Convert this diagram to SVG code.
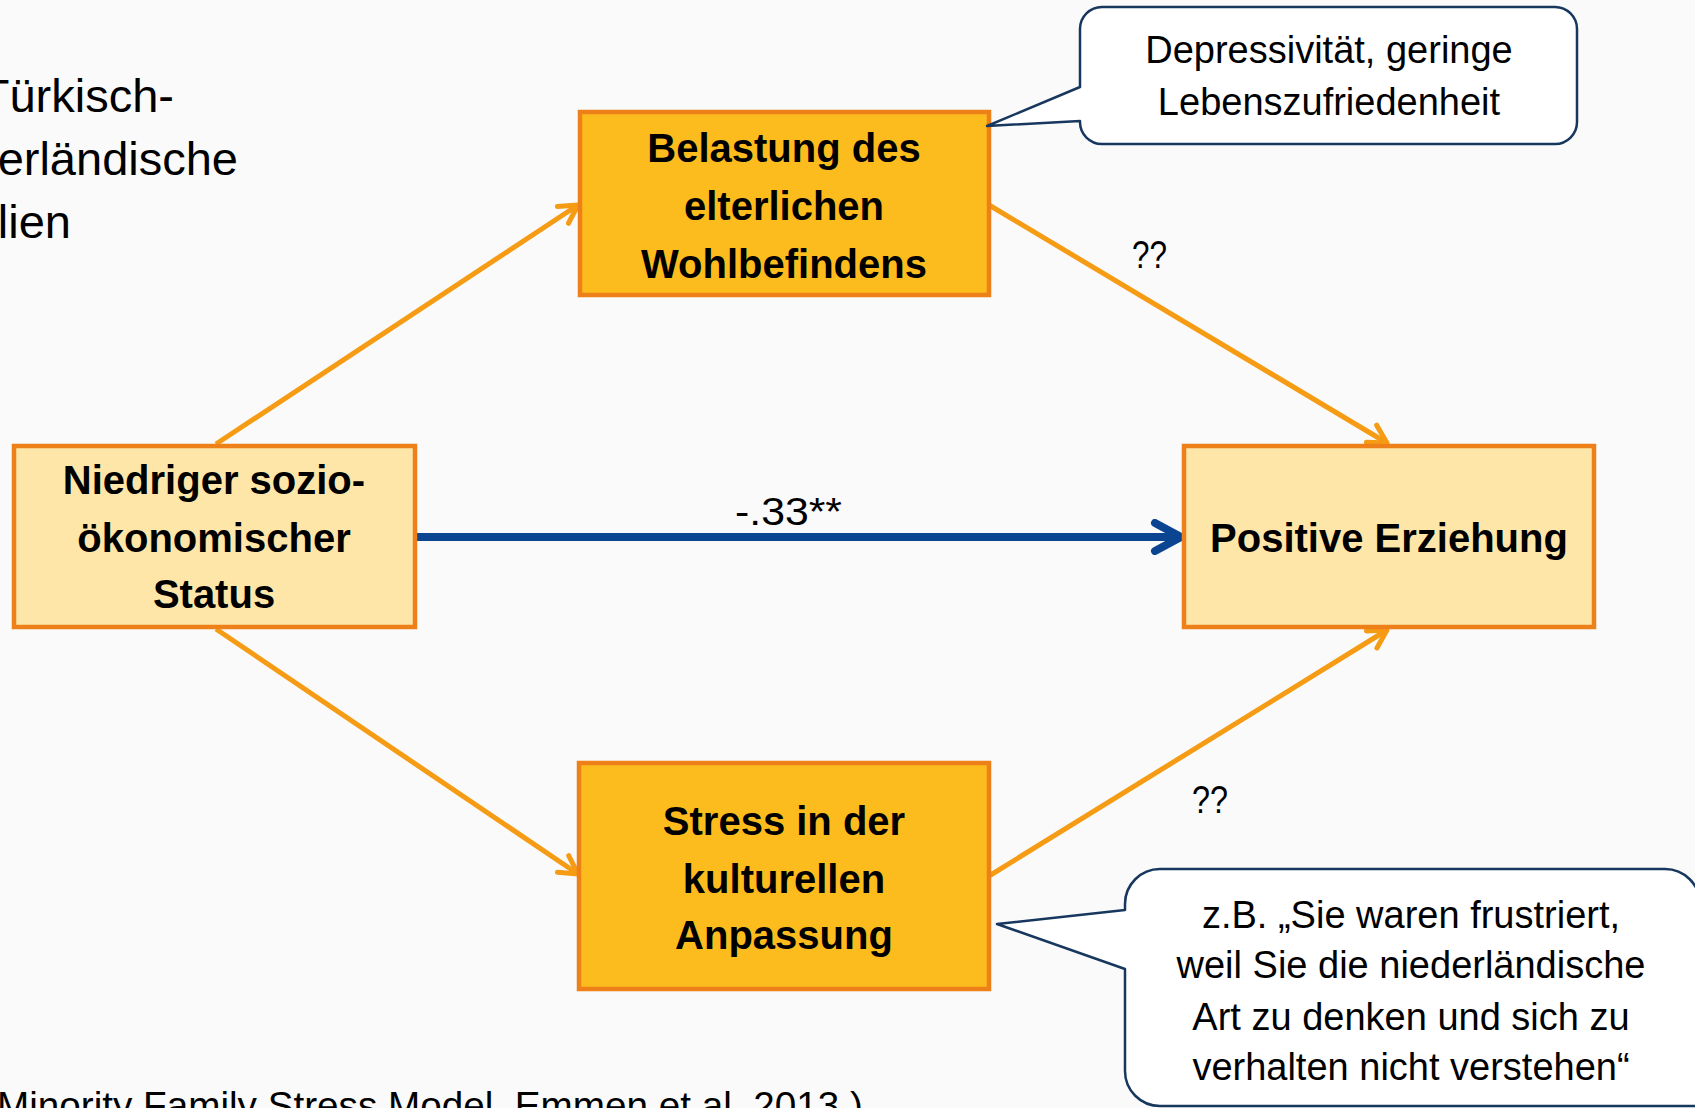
<svg xmlns="http://www.w3.org/2000/svg" width="1695" height="1108" viewBox="0 0 1695 1108">
  <style>
    .bg { fill: #FAFAFA; }
    .box { stroke: #EE8019; stroke-width: 4.5; }
    .light { fill: #FEE6A9; }
    .dark { fill: #FDBC1E; }
    .lbl { font-family: "Liberation Sans", Arial, sans-serif; font-weight: bold; font-size: 40px; fill: #000; text-anchor: middle; }
    .txt { font-family: "Liberation Sans", Arial, sans-serif; font-size: 38px; fill: #000; }
    .mid { text-anchor: middle; }
    .head { font-family: "Liberation Sans", Arial, sans-serif; font-size: 47px; fill: #000; text-anchor: end; }
    .orange { stroke: #F59B14; stroke-width: 5; fill: none; }
    .blue { stroke: #0B4592; stroke-width: 8; fill: none; }
    .call { fill: #FFFFFF; stroke: #17375E; stroke-width: 2.5; stroke-linejoin: round; }
  </style>
  <defs>
    <marker id="arrOrange" markerUnits="userSpaceOnUse" viewBox="0 0 26 28" markerWidth="26" markerHeight="28" refX="22" refY="14" orient="auto">
      <path d="M4,4 L22,14 L4,24" fill="none" stroke="#F59B14" stroke-width="5" stroke-linecap="round" stroke-linejoin="round"/>
    </marker>
    <marker id="arrBlue" markerUnits="userSpaceOnUse" viewBox="0 0 36 36" markerWidth="36" markerHeight="36" refX="31" refY="18" orient="auto">
      <path d="M5,4 L31,18 L5,32" fill="none" stroke="#0B4592" stroke-width="8" stroke-linecap="round" stroke-linejoin="round"/>
    </marker>
  </defs>

  <rect class="bg" x="0" y="0" width="1695" height="1108"/>

  <!-- heading block, left-aligned and running off the left edge -->
  <g id="heading">
    <text class="head" x="174" y="112">Türkisch-</text>
    <text class="head" x="238" y="175">niederländische</text>
    <text class="head" x="71" y="238">Familien</text>
  </g>

  <!-- connectors -->
  <g id="connectors">
    <line class="orange" x1="216" y1="444" x2="578" y2="205" marker-end="url(#arrOrange)"/>
    <line class="orange" x1="216" y1="629" x2="578" y2="874" marker-end="url(#arrOrange)"/>
    <line class="orange" x1="989" y1="205" x2="1387" y2="443" marker-end="url(#arrOrange)"/>
    <line class="orange" x1="989" y1="876" x2="1387" y2="630" marker-end="url(#arrOrange)"/>
    <line class="blue" x1="415" y1="537" x2="1181" y2="537" marker-end="url(#arrBlue)"/>
    <text class="txt" x="735" y="525" textLength="107" lengthAdjust="spacingAndGlyphs">-.33**</text>
    <text class="txt" x="1132" y="268" textLength="35" lengthAdjust="spacingAndGlyphs">??</text>
    <text class="txt" x="1192" y="813" textLength="36" lengthAdjust="spacingAndGlyphs">??</text>
  </g>

  <!-- nodes -->
  <g id="node-ses">
    <rect class="box light" x="14" y="446" width="401" height="181"/>
    <text class="lbl" x="214" y="494">Niedriger sozio-</text>
    <text class="lbl" x="214" y="552">ökonomischer</text>
    <text class="lbl" x="214" y="608">Status</text>
  </g>

  <g id="node-wellbeing">
    <rect class="box dark" x="580" y="112" width="409" height="183"/>
    <text class="lbl" x="784" y="162">Belastung des</text>
    <text class="lbl" x="784" y="220">elterlichen</text>
    <text class="lbl" x="784" y="278">Wohlbefindens</text>
  </g>

  <g id="node-acculturation">
    <rect class="box dark" x="579" y="763" width="410" height="226"/>
    <text class="lbl" x="784" y="835">Stress in der</text>
    <text class="lbl" x="784" y="893">kulturellen</text>
    <text class="lbl" x="784" y="949">Anpassung</text>
  </g>

  <g id="node-parenting">
    <rect class="box light" x="1184" y="446" width="410" height="181"/>
    <text class="lbl" x="1389" y="552">Positive Erziehung</text>
  </g>

  <!-- speech bubbles -->
  <g id="note-wellbeing">
    <path class="call" d="M1102,7 H1555 A22,22 0 0 1 1577,29 V122 A22,22 0 0 1 1555,144 H1102 A22,22 0 0 1 1080,122 V121 L987,126 L1080,87 V29 A22,22 0 0 1 1102,7 Z"/>
    <text class="txt mid" x="1329" y="63">Depressivität, geringe</text>
    <text class="txt mid" x="1329" y="115">Lebenszufriedenheit</text>
  </g>

  <g id="note-acculturation">
    <path class="call" d="M1160,869 H1665 A35,35 0 0 1 1700,904 V1106 H1160 A35,35 0 0 1 1125,1071 V969 L997,924 L1125,910 V904 A35,35 0 0 1 1160,869 Z"/>
    <text class="txt mid" x="1411" y="928">z.B. „Sie waren frustriert,</text>
    <text class="txt mid" x="1411" y="978">weil Sie die niederländische</text>
    <text class="txt mid" x="1411" y="1030">Art zu denken und sich zu</text>
    <text class="txt mid" x="1411" y="1080">verhalten nicht verstehen“</text>
  </g>

  <!-- source line, cut by the bottom edge -->
  <g id="source">
    <text class="txt" x="-3" y="1119" textLength="866" lengthAdjust="spacingAndGlyphs">Minority Family Stress Model, Emmen et al. 2013.)</text>
  </g>
</svg>
